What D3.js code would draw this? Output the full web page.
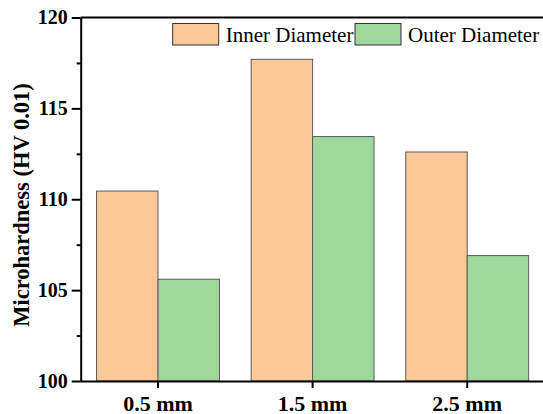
<!DOCTYPE html>
<html>
<head>
<meta charset="utf-8">
<script src="https://cdn.jsdelivr.net/npm/d3@7"></script>
<style>
html,body{margin:0;padding:0;background:#fff;}
svg{display:block;}
text{font-family:"Liberation Serif","Times New Roman",serif;}
</style>
</head>
<body>
<svg id="chart" width="543" height="414"></svg>
<script>
const categories = ["0.5 mm", "1.5 mm", "2.5 mm"];
const seriesNames = ["Inner Diameter", "Outer Diameter"];
const innerValues = [110.45, 117.7, 112.6];
const outerValues = [105.6, 113.45, 106.9];
const yMajorTicks = [100, 105, 110, 115, 120];
const yMinorTicks = [102.5, 107.5, 112.5, 117.5];
const colors = ["#FBC898", "#9FD79D"];

const svg = d3.select("#chart");
const mLeft = 80.7, mRight = 544.5, mTop = 17.5, mBottom = 381;

const y = d3.scaleLinear().domain([100, 120]).range([mBottom, mTop]);
const x0 = d3.scaleBand().domain(categories).range([mLeft, mRight]).paddingInner(0.205).paddingOuter(0.1025);
const x1 = d3.scaleBand().domain(seriesNames).range([0, x0.bandwidth()]);
const color = d3.scaleOrdinal().domain(seriesNames).range(colors);

const data = categories.map((c, i) => ({cat: c, vals: [
  {s: seriesNames[0], v: innerValues[i]},
  {s: seriesNames[1], v: outerValues[i]}
]}));

// bars
const g = svg.append("g");
g.selectAll("g.grp").data(data).join("g").attr("class", "grp")
  .attr("transform", d => `translate(${x0(d.cat)},0)`)
  .selectAll("rect").data(d => d.vals).join("rect")
  .attr("x", d => x1(d.s))
  .attr("y", d => y(d.v))
  .attr("width", x1.bandwidth())
  .attr("height", d => y(100) - y(d.v))
  .attr("fill", d => color(d.s))
  .attr("stroke", "#5a5a5a")
  .attr("stroke-width", 1);

// top border
svg.append("line").attr("x1", mLeft).attr("x2", 543).attr("y1", mTop).attr("y2", mTop)
  .attr("stroke", "#000").attr("stroke-width", 2);

// y axis minor
const yMinor = svg.append("g").attr("transform", `translate(${mLeft},0)`)
  .call(d3.axisLeft(y).tickValues(yMinorTicks).tickSize(4).tickFormat(""));
yMinor.select(".domain").remove();
yMinor.selectAll("line").attr("stroke-width", 2);

// y axis major
const yAx = svg.append("g").attr("transform", `translate(${mLeft},0)`)
  .call(d3.axisLeft(y).tickValues(yMajorTicks).tickSize(9).tickSizeOuter(0).tickFormat(d3.format("d")));
yAx.select(".domain").attr("stroke-width", 2);
yAx.selectAll("line").attr("stroke-width", 2);
yAx.selectAll("text").attr("font-size", 20).attr("font-weight", "bold")
  .attr("font-family", "Liberation Serif").attr("fill", "#000").attr("x", -13);

// x axis
const xAx = svg.append("g").attr("transform", `translate(0,${mBottom})`)
  .call(d3.axisBottom(x0).tickSize(7).tickSizeOuter(0));
xAx.select(".domain").attr("d", `M${mLeft},0.5H543`).attr("stroke-width", 2);
xAx.selectAll(".tick").attr("transform", d => `translate(${x0(d) + x0.bandwidth() / 2},0)`);
xAx.selectAll("line").attr("stroke-width", 2);
xAx.selectAll("text").attr("font-size", 22).attr("font-weight", "bold")
  .attr("font-family", "Liberation Serif").attr("fill", "#000").attr("dy", 0).attr("y", 29.5);

// y title
svg.append("text")
  .attr("transform", `translate(29,${(88 + 322) / 2}) rotate(-90)`)
  .attr("text-anchor", "middle")
  .attr("font-size", 22.5).attr("font-weight", "bold")
  .text("Microhardness (HV 0.01)");

// legend
const legendX = [172.7, 355];
const lg = svg.append("g");
seriesNames.forEach((s, i) => {
  lg.append("rect").attr("x", legendX[i]).attr("y", 23.5).attr("width", 46).attr("height", 21.5)
    .attr("fill", color(s)).attr("stroke", "#333").attr("stroke-width", 1);
  lg.append("text").attr("x", legendX[i] + 53).attr("y", 41.5)
    .attr("font-size", 21).attr("fill", "#000").text(s);
});
</script>
</body>
</html>
